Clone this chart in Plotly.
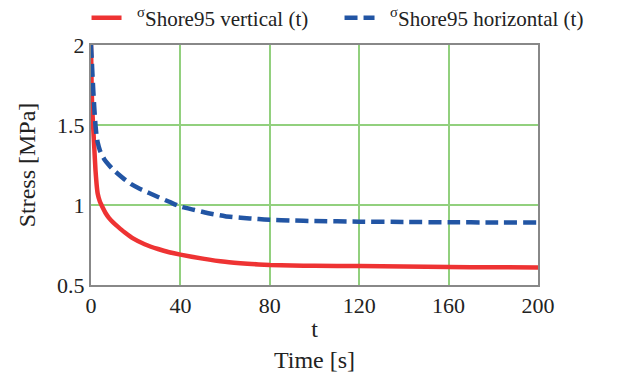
import plotly.graph_objects as go

t_vertical = [0, 0.2, 0.5, 1, 1.5, 2, 2.5, 3, 4, 5, 6.5, 8, 10, 12, 15, 19, 24, 30, 35, 40,
              50, 60, 70, 80, 90, 100, 120, 140, 160, 180, 200]
s_vertical = [2.0, 1.8, 1.62, 1.48, 1.35, 1.22, 1.13, 1.07, 1.02, 0.99, 0.95, 0.92, 0.89, 0.865,
              0.83, 0.79, 0.755, 0.725, 0.705, 0.69, 0.665, 0.645, 0.633, 0.625, 0.622, 0.62,
              0.618, 0.616, 0.612, 0.611, 0.61]

t_horizontal = [0, 0.3, 0.7, 1, 1.5, 2, 2.5, 3, 4, 5, 6, 8, 10, 12, 15, 18, 22, 26, 30, 35, 40,
                46, 52, 60, 67, 75, 80, 90, 100, 120, 140, 160, 180, 200]
s_horizontal = [2.0, 1.92, 1.8, 1.72, 1.6, 1.5, 1.43, 1.39, 1.34, 1.31, 1.285, 1.25, 1.22, 1.195,
                1.16, 1.13, 1.10, 1.075, 1.05, 1.02, 0.99, 0.97, 0.95, 0.93, 0.92, 0.912, 0.908,
                0.903, 0.90, 0.896, 0.894, 0.892, 0.891, 0.89]

x_ticks = [0, 40, 80, 120, 160, 200]
y_ticks = [0.5, 1, 1.5, 2]
y_tick_labels = ["0.5", "1", "1.5", "2"]

FONT = "Liberation Serif, Times New Roman, serif"

fig = go.Figure()
fig.add_trace(go.Scatter(
    x=t_vertical, y=s_vertical, mode="lines", line_shape="spline", line_smoothing=0.5,
    name="\u2002<sup>σ</sup>Shore95 vertical (t)",
    line=dict(color="#ee3333", width=4.5),
))
fig.add_trace(go.Scatter(
    x=t_horizontal, y=s_horizontal, mode="lines", line_shape="spline", line_smoothing=0.5,
    name="\u2002<sup>σ</sup>Shore95 horizontal (t)",
    line=dict(color="#2255a4", width=4.5, dash="13px,6px"),
))

fig.update_layout(
    width=640, height=373,
    margin=dict(l=91, r=102, t=45, b=88, autoexpand=False),
    paper_bgcolor="white", plot_bgcolor="white",
    font=dict(family=FONT, size=22, color="#222222"),
    showlegend=True,
    legend=dict(orientation="h", x=-0.01, y=1.1125, xanchor="left", yanchor="middle",
                font=dict(family=FONT, size=21, color="#222222"),
                bgcolor="rgba(0,0,0,0)", entrywidth=208, tracegroupgap=0),
    xaxis=dict(range=[0, 200], tickvals=x_ticks, ticktext=[str(v) for v in x_ticks],
               showgrid=True, gridcolor="#92d07e", gridwidth=1.5,
               showline=True, linecolor="#888888", linewidth=2, mirror=True,
               zeroline=False, ticks="", ticklen=0,
               tickfont=dict(family=FONT, size=22),
               title=dict(text="t<br>Time [s]", font=dict(family=FONT, size=24), standoff=2)),
    yaxis=dict(range=[0.5, 2], tickvals=y_ticks, ticktext=y_tick_labels,
               showgrid=True, gridcolor="#92d07e", gridwidth=1.5,
               showline=True, linecolor="#888888", linewidth=2, mirror=True,
               zeroline=False, ticks="", ticklen=0,
               tickfont=dict(family=FONT, size=22),
               title=dict(text="Stress [MPa]", font=dict(family=FONT, size=24), standoff=15)),
)

fig.write_html("out.html")
